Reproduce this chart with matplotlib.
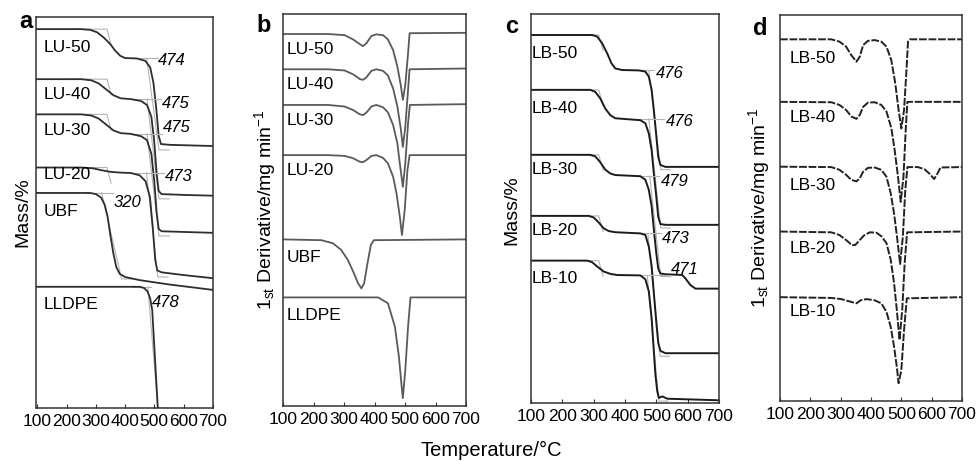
import matplotlib.pyplot as plt

plt.rcParams['font.family'] = ['Liberation Sans', 'DejaVu Sans']
plt.rcParams['mathtext.default'] = 'regular'

# ---- panel a: TG curves, LU series (temperature / stacked mass) ----
a_lu50_t = [98, 247, 281, 304, 326, 349, 366, 383, 400, 440, 469, 486, 497, 507, 515, 523, 555, 701]
a_lu50_m = [96.9, 96.9, 96.7, 96.1, 94.8, 93.1, 91.4, 90.1, 89.5, 89.4, 88.8, 87.1, 83.2, 76.4, 69.6, 67.5, 67.3, 67.0]
a_lu40_t = [98, 250, 285, 310, 335, 360, 385, 420, 455, 475, 490, 500, 508, 515, 525, 600, 701]
a_lu40_m = [84.1, 84.1, 83.8, 83.0, 81.5, 80.0, 79.2, 79.0, 78.5, 77.5, 74.5, 68.0, 60.0, 55.5, 54.7, 54.5, 54.3]
a_lu30_t = [98, 250, 285, 310, 335, 360, 385, 420, 455, 475, 490, 500, 508, 515, 525, 701]
a_lu30_m = [75.1, 75.1, 74.8, 74.0, 72.5, 71.0, 70.3, 70.1, 69.5, 68.5, 65.0, 58.0, 50.0, 45.8, 45.2, 44.8]
a_lu20_t = [98, 250, 290, 320, 350, 385, 420, 450, 470, 485, 495, 503, 510, 525, 600, 701]
a_lu20_m = [61.5, 61.5, 61.3, 60.8, 60.4, 60.2, 60.1, 59.5, 58.0, 54.0, 46.0, 38.0, 35.2, 34.7, 34.0, 33.2]
a_ubf_t = [98, 280, 300, 318, 330, 340, 350, 360, 370, 382, 400, 450, 550, 701]
a_ubf_m = [55.0, 55.0, 54.7, 53.8, 52.0, 49.0, 44.0, 39.5, 36.0, 34.3, 33.5, 32.7, 31.6, 30.2]
a_lldpe_t = [98, 450, 465, 477, 486, 493, 512]
a_lldpe_m = [31.0, 31.0, 30.7, 29.8, 28.0, 25.0, 0.0]

a_names = ['LU-50', 'LU-40', 'LU-30', 'LU-20', 'UBF', 'LLDPE']
a_name_y = [92.2, 80.3, 70.9, 59.8, 50.3, 26.4]
a_onset = [474, 475, 475, 473, 320, 478]
a_onset_t = [514, 526, 531, 537, 361, 492]
a_onset_y = [88.8, 77.9, 71.8, 59.3, 52.6, 27.1]
a_plateau = [89.5, 79.0, 70.1, 60.2, 55.0, 31.0]
a_final = [66.0, 53.5, 44.0, 33.5, 33.0, 0.0]
a_tan_end = [516, 516, 516, 512, 388, 512]

# ---- panel b: DTG curves, LU series ----
b_lu50_t = [100, 247, 302, 330, 352, 362, 373, 390, 406, 428, 444, 461, 475, 486, 493, 501, 510, 515, 700]
b_lu50_d = [94.9, 94.9, 94.6, 93.5, 92.3, 91.8, 92.5, 94.4, 94.8, 94.6, 93.5, 90.8, 86.6, 81.9, 78.1, 81.9, 89.9, 95.1, 95.2]
b_lu40_t = [100, 247, 302, 330, 352, 362, 373, 390, 406, 428, 444, 461, 475, 486, 493, 501, 510, 515, 700]
b_lu40_d = [85.9, 85.9, 85.6, 84.6, 83.4, 83.2, 83.8, 85.5, 85.9, 85.5, 84.3, 81.0, 76.4, 70.8, 66.1, 71.2, 80.6, 85.9, 86.1]
b_lu30_t = [100, 247, 302, 330, 352, 362, 373, 390, 406, 428, 444, 461, 475, 483, 493, 501, 510, 516, 700]
b_lu30_d = [76.8, 76.8, 76.4, 75.5, 74.4, 74.2, 74.8, 76.4, 76.8, 76.2, 74.9, 71.7, 67.0, 61.9, 55.9, 61.9, 72.1, 76.8, 77.0]
b_lu20_t = [100, 247, 302, 330, 352, 362, 373, 390, 406, 428, 444, 461, 472, 483, 490, 499, 508, 515, 700]
b_lu20_d = [64.0, 64.0, 63.8, 63.2, 62.3, 62.2, 62.7, 63.8, 64.0, 63.3, 61.9, 58.5, 54.3, 48.3, 43.6, 50.0, 60.2, 64.0, 64.0]
b_ubf_t = [100, 226, 264, 291, 313, 333, 346, 357, 366, 377, 388, 398, 700]
b_ubf_d = [42.5, 42.3, 41.5, 39.8, 37.2, 33.8, 31.3, 30.0, 31.3, 36.4, 41.1, 42.3, 42.5]
b_lldpe_t = [100, 412, 444, 467, 480, 488, 493, 501, 510, 518, 700]
b_lldpe_d = [27.7, 27.7, 26.2, 20.2, 12.6, 5.8, 2.0, 9.2, 20.2, 27.7, 27.7]
b_name_y = [91.0, 81.9, 72.9, 60.2, 38.0, 23.2]

# ---- panel c: TG curves, LB series ----
c_lb50_t = [100, 295, 311, 327, 343, 357, 369, 391, 444, 465, 476, 485, 492, 500, 506, 513, 529, 700]
c_lb50_m = [94.6, 94.6, 94.2, 92.5, 89.9, 87.3, 86.0, 85.6, 85.5, 85.2, 83.9, 80.5, 75.3, 68.6, 63.3, 61.2, 60.7, 60.7]
c_lb40_t = [100, 289, 305, 321, 337, 353, 369, 401, 449, 465, 476, 485, 492, 500, 506, 513, 529, 700]
c_lb40_m = [80.5, 80.5, 80.0, 78.3, 75.7, 74.0, 73.2, 73.0, 72.7, 71.9, 69.3, 65.0, 59.0, 53.0, 47.9, 46.0, 45.8, 45.8]
c_lb30_t = [100, 289, 305, 321, 337, 353, 369, 449, 465, 476, 485, 492, 500, 506, 513, 529, 583, 593, 609, 625, 700]
c_lb30_m = [63.8, 63.8, 63.4, 61.9, 60.0, 59.0, 58.6, 58.3, 57.4, 54.8, 50.6, 44.6, 38.4, 34.6, 33.3, 33.1, 32.9, 32.0, 30.3, 29.4, 29.4]
c_lb20_t = [100, 284, 300, 316, 332, 348, 369, 449, 465, 476, 485, 492, 500, 506, 513, 529, 700]
c_lb20_m = [48.1, 48.1, 47.7, 46.4, 44.9, 44.2, 43.9, 43.6, 43.2, 40.2, 35.2, 28.3, 20.7, 15.5, 13.4, 12.8, 12.8]
c_lb10_t = [100, 279, 295, 311, 332, 353, 375, 449, 465, 476, 485, 492, 497, 503, 508, 519, 535, 700]
c_lb10_m = [36.6, 36.6, 36.2, 35.1, 33.8, 33.2, 32.9, 32.8, 31.8, 28.7, 21.8, 13.3, 7.3, 3.0, 1.3, 1.7, 1.1, 0.7]

c_names = ['LB-50', 'LB-40', 'LB-30', 'LB-20', 'LB-10']
c_name_y = [89.9, 75.7, 59.9, 44.4, 32.0]
c_onset = [476, 476, 479, 473, 471]
c_onset_t = [497, 529, 513, 519, 545]
c_onset_y = [84.8, 72.3, 56.9, 42.3, 34.2]
c_plateau = [85.5, 73.0, 58.3, 43.6, 32.8]
c_final = [60.0, 45.0, 32.5, 12.0, 0.5]
c_tan_end = [514, 514, 514, 512, 508]

# ---- panel d: DTG curves, LB series ----
d_lb50_t = [100, 269, 296, 318, 335, 352, 363, 374, 390, 412, 434, 451, 467, 480, 491, 500, 509, 517, 522, 528, 700]
d_lb50_d = [93.7, 93.7, 93.1, 91.8, 89.6, 87.9, 89.2, 92.2, 93.3, 93.5, 93.1, 91.8, 88.3, 82.3, 75.4, 70.6, 75.4, 85.8, 93.1, 93.7, 93.7]
d_lb40_t = [100, 269, 296, 318, 335, 352, 363, 374, 390, 412, 434, 451, 467, 478, 489, 498, 507, 515, 520, 700]
d_lb40_d = [77.5, 77.4, 76.7, 75.4, 73.7, 73.1, 74.1, 76.2, 77.3, 77.4, 76.7, 75.0, 70.7, 65.0, 58.1, 51.6, 58.1, 71.1, 77.5, 77.5]
d_lb30_t = [100, 269, 296, 318, 335, 352, 363, 374, 390, 412, 434, 451, 465, 476, 487, 496, 505, 513, 520, 555, 577, 594, 608, 619, 629, 700]
d_lb30_d = [60.7, 60.6, 59.9, 58.6, 57.3, 56.9, 57.7, 59.4, 60.4, 60.5, 59.9, 58.1, 53.8, 48.6, 41.7, 35.5, 42.6, 54.6, 60.6, 60.6, 60.0, 58.8, 57.5, 58.9, 60.5, 60.6]
d_lb20_t = [100, 269, 296, 318, 337, 348, 363, 377, 396, 418, 434, 451, 465, 476, 485, 494, 503, 511, 519, 700]
d_lb20_d = [43.9, 43.7, 43.0, 41.7, 40.4, 40.4, 41.7, 42.9, 43.7, 43.6, 42.7, 40.9, 36.6, 30.6, 23.7, 15.8, 23.7, 35.7, 43.7, 43.9]
d_lb10_t = [100, 269, 302, 329, 352, 366, 385, 412, 434, 451, 465, 476, 485, 491, 500, 509, 518, 700]
d_lb10_d = [26.9, 26.7, 26.4, 25.8, 25.3, 26.1, 26.4, 26.1, 25.3, 23.1, 19.2, 14.1, 8.9, 4.6, 8.0, 18.4, 26.6, 26.9]
d_name_y = [88.8, 73.5, 55.7, 39.5, 23.1]

temp_ticks = [100, 200, 300, 400, 500, 600, 700]
deriv_label = '1$_{st}$ Derivative/mg min$^{-1}$'

W, H = 977, 461
fig = plt.figure(figsize=(W / 100, H / 100), dpi=100)


def box(left, top, right, bottom):
    return [left / W, (H - bottom) / H, (right - left) / W, (bottom - top) / H]


ax_a = fig.add_axes(box(36, 17, 213, 408))
ax_b = fig.add_axes(box(283, 14, 466, 406))
ax_c = fig.add_axes(box(531, 14, 719, 403))
ax_d = fig.add_axes(box(780, 15, 962, 401))

for ax, xlim in [(ax_a, (95, 701)), (ax_b, (100, 700)), (ax_c, (100, 700)), (ax_d, (100, 700))]:
    ax.set_xlim(*xlim)
    ax.set_ylim(0, 100)
    ax.set_xticks(temp_ticks)
    ax.set_yticks([])
    ax.tick_params(axis='x', direction='in', length=3, width=0.8, labelsize=12.5,
                   pad=4, colors='#333333', labelcolor='black')
    for sp in ax.spines.values():
        sp.set_color('#333333')
        sp.set_linewidth(1.1)

grey = '#b4b4b4'

# panel a: TG curves with light onset construction lines
a_curves = [(a_lu50_t, a_lu50_m), (a_lu40_t, a_lu40_m), (a_lu30_t, a_lu30_m),
            (a_lu20_t, a_lu20_m), (a_ubf_t, a_ubf_m), (a_lldpe_t, a_lldpe_m)]
for i, (t, m) in enumerate(a_curves):
    on = a_onset[i]
    ax_a.plot([on - 55, a_onset_t[i] - 3], [a_plateau[i]] * 2, color=grey, lw=0.8)
    ax_a.plot([on, a_tan_end[i], a_tan_end[i] + 35], [a_plateau[i], a_final[i], a_final[i]],
              color=grey, lw=0.8)
    if i < 4:
        ax_a.plot([t[1] - 40, 338, 352], [m[0], m[0], m[0] - 4.0], color=grey, lw=0.8)
    ax_a.plot(t, m, color='#2e2e2e', lw=1.3)
    ax_a.text(121, a_name_y[i], a_names[i], fontsize=12.5, va='center', ha='left')
    ax_a.text(a_onset_t[i], a_onset_y[i], str(on), fontsize=12, style='italic',
              va='center', ha='left')

# panel b
b_curves = [(b_lu50_t, b_lu50_d), (b_lu40_t, b_lu40_d), (b_lu30_t, b_lu30_d),
            (b_lu20_t, b_lu20_d), (b_ubf_t, b_ubf_d), (b_lldpe_t, b_lldpe_d)]
for i, (t, d) in enumerate(b_curves):
    ax_b.plot(t, d, color='#5a5a5a', lw=1.3)
    ax_b.text(111, b_name_y[i], a_names[i], fontsize=12.5, va='center', ha='left')

# panel c
c_curves = [(c_lb50_t, c_lb50_m), (c_lb40_t, c_lb40_m), (c_lb30_t, c_lb30_m),
            (c_lb20_t, c_lb20_m), (c_lb10_t, c_lb10_m)]
for i, (t, m) in enumerate(c_curves):
    on = c_onset[i]
    ax_c.plot([on - 55, c_onset_t[i] - 3], [c_plateau[i]] * 2, color=grey, lw=0.8)
    ax_c.plot([on, c_tan_end[i], c_tan_end[i] + 30], [c_plateau[i], c_final[i], c_final[i]],
              color=grey, lw=0.8)
    ax_c.plot([t[1] - 40, 316, 330], [m[0], m[0], m[0] - 4.0], color=grey, lw=0.8)
    ax_c.plot(t, m, color='#1c1c1c', lw=1.4)
    ax_c.text(103, c_name_y[i], c_names[i], fontsize=12.5, va='center', ha='left')
    ax_c.text(c_onset_t[i], c_onset_y[i], str(on), fontsize=12, style='italic',
              va='center', ha='left')

# panel d
d_curves = [(d_lb50_t, d_lb50_d), (d_lb40_t, d_lb40_d), (d_lb30_t, d_lb30_d),
            (d_lb20_t, d_lb20_d), (d_lb10_t, d_lb10_d)]
for i, (t, d) in enumerate(d_curves):
    ax_d.plot(t, d, color='#222222', lw=1.4, dashes=(4, 0.9))
    ax_d.text(131, d_name_y[i], c_names[i], fontsize=12.5, va='center', ha='left')

# axis titles and panel letters
fig.text(23 / W, 1 - 212 / H, 'Mass/%', rotation=90, fontsize=14, ha='center', va='center')
fig.text(265 / W, 1 - 210 / H, deriv_label, rotation=90, fontsize=14, ha='center', va='center')
fig.text(512 / W, 1 - 210 / H, 'Mass/%', rotation=90, fontsize=14, ha='center', va='center')
fig.text(759 / W, 1 - 208 / H, deriv_label, rotation=90, fontsize=14, ha='center', va='center')
fig.text(491 / W, 1 - 450 / H, 'Temperature/°C', fontsize=14.5, ha='center', va='center')

for lx, ly, letter in [(26, 28, 'a'), (264, 32, 'b'), (512, 33, 'c'), (760, 35, 'd')]:
    fig.text(lx / W, 1 - ly / H, letter, fontsize=17, fontweight='bold',
             ha='center', va='baseline')

fig.savefig('out.png', dpi=100)
